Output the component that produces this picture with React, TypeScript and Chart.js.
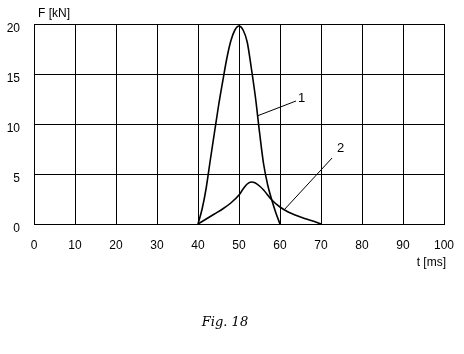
import React, { useEffect, useRef } from "react";
import { Chart, registerables } from "chart.js";

Chart.register(...registerables);

// Curve 1: time [ms] and force [kN]
const time1 = [40, 41, 42, 43, 44, 45, 46, 47, 48, 49, 50, 51, 52, 53, 54, 55, 56, 57, 58, 59, 60];
const force1 = [0, 1.5, 3.6, 6.4, 9.1, 11.8, 14.2, 16.5, 18.3, 19.4, 19.8, 19.4, 18.2, 15.6, 12.7, 9.2, 6.0, 3.9, 2.4, 1.1, 0];

// Curve 2
const time2 = [40, 42, 44, 46, 48, 50, 51, 52, 53, 54, 55, 56, 58, 60, 62, 64, 66, 68, 70];
const force2 = [0, 0.5, 1.0, 1.5, 2.1, 2.9, 3.5, 4.0, 4.2, 4.1, 3.8, 3.4, 2.4, 1.7, 1.2, 0.85, 0.55, 0.3, 0];

// Leader lines for the curve labels
const leader1T = [54.4, 63.9];
const leader1F = [10.8, 12.3];
const leader2T = [61.2, 72.7];
const leader2F = [1.5, 6.6];

const curveLabels = ["1", "2"];
const curveLabelT = [65.3, 74.8];
const curveLabelF = [12.6, 7.6];

const xTicks = [0, 10, 20, 30, 40, 50, 60, 70, 80, 90, 100];
const yTicks = [0, 5, 10, 15, 20];

const yTitle = "F [kN]";
const xTitle = "t [ms]";
const figCaption = "Fig. 18";

const zip = (xs: number[], ys: number[]) => xs.map((x, i) => ({ x, y: ys[i] }));

const textPlugin = {
  id: "texts",
  afterDraw(chart: any) {
    const { ctx, scales } = chart;
    const xs = scales.x;
    const ys = scales.y;
    ctx.save();
    ctx.fillStyle = "#000";
    ctx.font = "13px 'Liberation Sans', Arial, sans-serif";
    ctx.textBaseline = "middle";
    ctx.textAlign = "center";
    curveLabels.forEach((l, i) => {
      ctx.fillText(l, xs.getPixelForValue(curveLabelT[i]), ys.getPixelForValue(curveLabelF[i]));
    });
    ctx.font = "12px 'Liberation Sans', Arial, sans-serif";
    ctx.textAlign = "left";
    ctx.fillText(yTitle, 38, 14);
    ctx.textAlign = "right";
    ctx.fillText(xTitle, 446, 263);
    ctx.font = "italic 13px 'DejaVu Serif', serif";
    ctx.textAlign = "center";
    ctx.fillText(figCaption, 225, 323);
    ctx.restore();
  },
};

export default function App() {
  const ref = useRef<HTMLCanvasElement | null>(null);
  useEffect(() => {
    document.body.style.margin = "0";
    const canvas = ref.current;
    if (!canvas) return;
    const lineBase = {
      borderColor: "#000",
      pointRadius: 0,
      fill: false,
      showLine: true,
    };
    const chart = new Chart(canvas, {
      type: "scatter",
      data: {
        datasets: [
          { ...lineBase, data: zip(time1, force1), borderWidth: 1.6, cubicInterpolationMode: "monotone" },
          { ...lineBase, data: zip(time2, force2), borderWidth: 1.6, cubicInterpolationMode: "monotone" },
          { ...lineBase, data: zip(leader1T, leader1F), borderWidth: 1 },
          { ...lineBase, data: zip(leader2T, leader2F), borderWidth: 1 },
        ],
      } as any,
      options: {
        animation: false,
        responsive: false,
        events: [],
        layout: { padding: { left: 0, top: 24, right: 20, bottom: 0 } },
        plugins: { legend: { display: false }, tooltip: { enabled: false } },
        scales: {
          x: {
            type: "linear",
            min: 0,
            max: 100,
            afterBuildTicks: (s: any) => {
              s.ticks = xTicks.map((v) => ({ value: v }));
            },
            afterFit: (s: any) => {
              s.height = 354 - 24 - 200;
              s.paddingLeft = 0;
              s.paddingRight = 0;
            },
            grid: { color: "#000", lineWidth: 1, drawTicks: false },
            border: { color: "#000", width: 1 },
            ticks: {
              color: "#000",
              padding: 14,
              maxRotation: 0,
              autoSkip: false,
              font: { size: 12, family: "'Liberation Sans', Arial, sans-serif" },
            },
          },
          y: {
            type: "linear",
            min: 0,
            max: 20,
            afterBuildTicks: (s: any) => {
              s.ticks = yTicks.map((v) => ({ value: v }));
            },
            afterFit: (s: any) => {
              s.width = 34;
              s.paddingTop = 0;
              s.paddingBottom = 0;
            },
            grid: { color: "#000", lineWidth: 1, drawTicks: false },
            border: { color: "#000", width: 1 },
            ticks: {
              color: "#000",
              padding: 14,
              labelOffset: 5,
              font: { size: 12, family: "'Liberation Sans', Arial, sans-serif" },
            },
          },
        },
      } as any,
      plugins: [textPlugin],
    });
    return () => chart.destroy();
  }, []);
  return (
    <div style={{ width: 464, height: 354, background: "#fff" }}>
      <canvas ref={ref} width={464} height={354} style={{ display: "block" }} />
    </div>
  );
}
